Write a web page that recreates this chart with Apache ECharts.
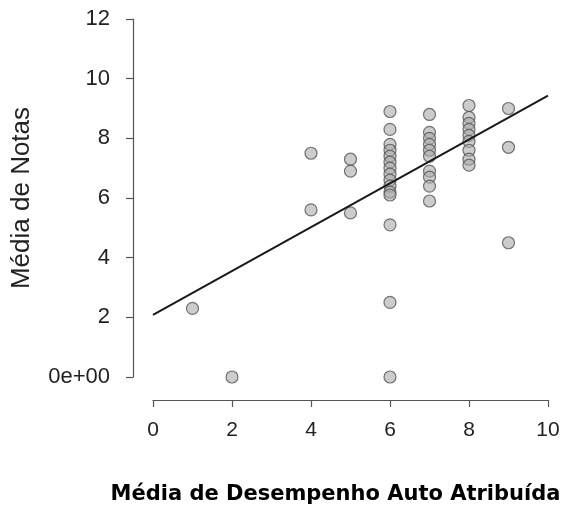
<!DOCTYPE html>
<html>
<head>
<meta charset="utf-8">
<script src="https://cdn.jsdelivr.net/npm/echarts@6/dist/echarts.min.js"></script>
<style>
  html, body { margin: 0; padding: 0; background: #fff; }
  #chart { width: 561px; height: 506px; }
</style>
</head>
<body>
<div id="chart"></div>
<script>
// Média de desempenho auto atribuída (x) e média de notas (y)
const xValues = [
  1, 2, 4, 4, 5, 5, 5,
  6, 6, 6, 6, 6, 6, 6, 6, 6, 6, 6, 6, 6, 6, 6,
  7, 7, 7, 7, 7, 7, 7, 7, 7, 7,
  8, 8, 8, 8, 8, 8, 8, 8, 8,
  9, 9, 9
];
const yValues = [
  2.3, 0.0, 7.5, 5.6, 7.3, 6.9, 5.5,
  8.9, 8.3, 7.8, 7.6, 7.4, 7.2, 7.0, 6.8, 6.6, 6.4, 6.2, 6.1, 5.1, 2.5, 0.0,
  8.8, 8.2, 8.0, 7.8, 7.6, 7.4, 6.9, 6.7, 6.4, 5.9,
  9.1, 8.7, 8.5, 8.3, 8.1, 7.9, 7.6, 7.3, 7.1,
  9.0, 7.7, 4.5
];
// reta de regressão (extremos)
const fitX = [0, 10];
const fitY = [2.08, 9.43];

const points = xValues.map((x, i) => [x, yValues[i]]);
const fitLine = fitX.map((x, i) => [x, fitY[i]]);

const chart = echarts.init(document.getElementById("chart"));

const labelFont = "'Liberation Sans', Arial, sans-serif";

const axisCommon = {
  axisLine: { show: true, onZero: false, lineStyle: { color: "#555", width: 1.2 } },
  axisTick: { show: true, length: 7, lineStyle: { color: "#555", width: 1.2 } },
  splitLine: { show: false },
  axisLabel: {
    color: "#222",
    fontFamily: labelFont,
    fontSize: 21,
  },
};

chart.setOption({
  animation: false,
  backgroundColor: "#fff",
  grid: {
    left: 153, right: 13, top: 19, bottom: 129,
    containLabel: false,
    outerBoundsMode: "none",
  },
  xAxis: {
    ...axisCommon,
    type: "value",
    min: 0,
    max: 10,
    interval: 2,
    offset: 23,
    axisLabel: { ...axisCommon.axisLabel, margin: 20 },
    name: "Média de Desempenho Auto Atribuída",
    nameLocation: "middle",
    nameGap: 84,
    nameTextStyle: {
      color: "#000",
      fontFamily: "'DejaVu Sans', sans-serif",
      fontWeight: "bold",
      fontSize: 21,
      padding: [0, 30, 0, 0],
    },
  },
  yAxis: {
    ...axisCommon,
    type: "value",
    min: 0,
    max: 12,
    interval: 2,
    offset: 20,
    axisLabel: {
      ...axisCommon.axisLabel,
      fontSize: 22,
      margin: 23,
      formatter: (v) => (v === 0 ? "0e+00" : String(v)),
    },
    name: "Média de Notas",
    nameLocation: "middle",
    nameGap: 98,
    nameRotate: 90,
    nameTextStyle: {
      color: "#222",
      fontFamily: labelFont,
      fontSize: 26,
    },
  },
  series: [
    {
      type: "line",
      data: fitLine,
      symbol: "none",
      lineStyle: { color: "#1a1a1a", width: 2 },
      z: 3,
    },
    {
      type: "scatter",
      data: points,
      symbolSize: 12,
      itemStyle: {
        color: "rgba(170,170,170,0.75)",
        borderColor: "#555",
        borderWidth: 1.2,
      },
      z: 2,
    },
  ],
});
</script>
</body>
</html>
